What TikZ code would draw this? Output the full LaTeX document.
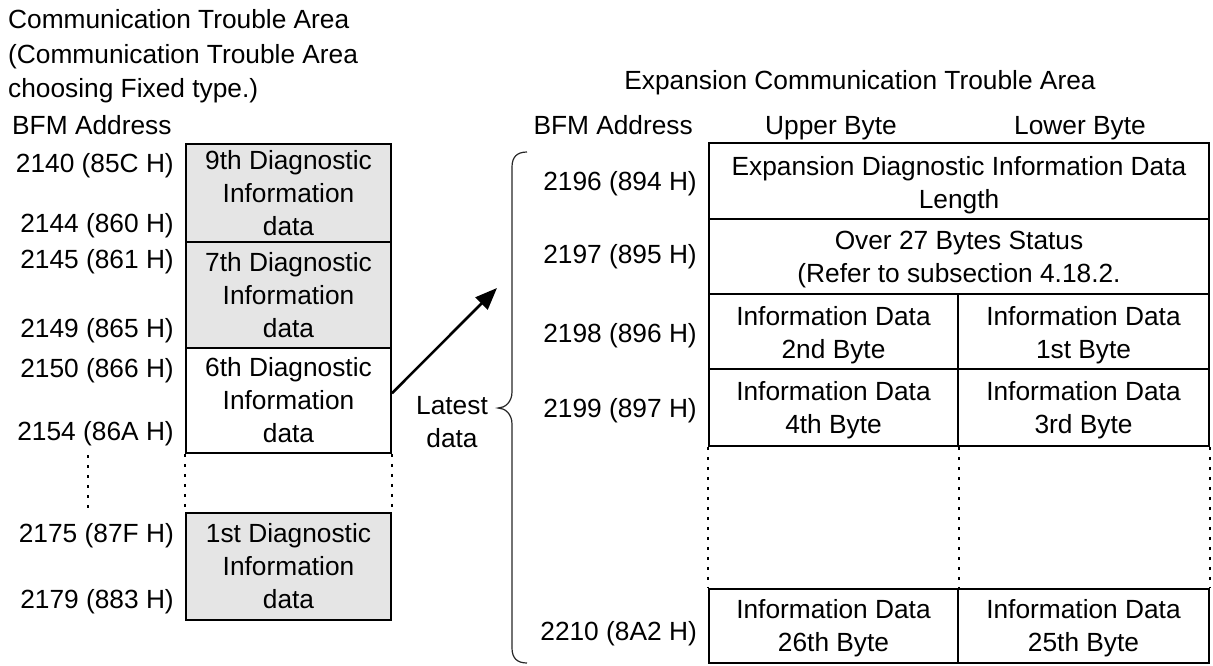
\documentclass[tikz,border=0pt]{standalone}
\usepackage{fontspec}
\setmainfont{Liberation Sans}
\usetikzlibrary{arrows.meta}
\begin{document}
\begin{tikzpicture}[x=1pt,y=-1pt,
  every node/.style={font=\fontsize{26.3pt}{33pt}\selectfont, inner sep=0pt},
  cell/.style={draw, line width=1.8pt, align=center},
  shaded/.style={cell, fill=gray!20},
  celltext/.style={align=center},
  addr/.style={anchor=base east},
  dotline/.style={line width=2pt, dash pattern=on 3pt off 7pt},
  bracestyle/.style={line width=1.2pt, black!85},
  arrowstyle/.style={line width=2.6pt, -{Triangle[length=22pt,width=17pt]}}
]
\useasboundingbox (0,0) rectangle (1213,665);
% ---- left titles
\node[anchor=base west] (t1) at (8,28) {Communication Trouble Area};
\node[anchor=base west] (t2) at (8,63) {(Communication Trouble Area};
\node[anchor=base west] (t3) at (8,97) {choosing Fixed type.)};
\node[anchor=base west] (lbfm) at (12,134) {BFM Address};
% ---- left boxes
\node[shaded, minimum width=205pt, minimum height=98pt] (b9) at (288.5,193) {9th Diagnostic\\Information\\data};
\node[shaded, minimum width=205pt, minimum height=106pt] (b7) at (288.5,295) {7th Diagnostic\\Information\\data};
\node[cell, minimum width=205pt, minimum height=105pt] (b6) at (288.5,400.5) {6th Diagnostic\\Information\\data};
\node[shaded, minimum width=205pt, minimum height=107pt] (b1) at (288.5,566.5) {1st Diagnostic\\Information\\data};
\draw[dotline] (b6.south west) -- (b1.north west);
\draw[dotline] (b6.south east) -- (b1.north east);
% ---- left addresses
\node[addr] (a2140) at (174,172) {2140 (85C H)};
\node[addr] (a2144) at (174,232) {2144 (860 H)};
\node[addr] (a2145) at (174,268) {2145 (861 H)};
\node[addr] (a2149) at (174,337) {2149 (865 H)};
\node[addr] (a2150) at (174,377) {2150 (866 H)};
\node[addr] (a2154) at (174,440) {2154 (86A H)};
\node[addr] (a2175) at (174,542) {2175 (87F H)};
\node[addr] (a2179) at (174,608) {2179 (883 H)};
\coordinate (ad1) at (88,455);
\coordinate (ad2) at (88,513);
\draw[dotline] (ad1) -- (ad2);
% ---- right titles
\node[anchor=base] (t4) at (860,89) {Expansion Communication Trouble Area};
\node[anchor=base east] (rbfm) at (693,134) {BFM Address};
\node[anchor=base] (upper) at (831,134) {Upper Byte};
\node[anchor=base] (lower) at (1080,134) {Lower Byte};
% ---- right table (cells)
\node[cell, minimum width=500pt, minimum height=76pt] (r1) at (959,181) {};
\node[cell, minimum width=500pt, minimum height=75pt] (r2) at (959,256.5) {};
\node[cell, minimum width=249pt, minimum height=75pt] (r3a) at (833.5,331.5) {};
\node[cell, minimum width=251pt, minimum height=75pt] (r3b) at (1083.5,331.5) {};
\node[cell, minimum width=249pt, minimum height=77pt] (r4a) at (833.5,407.5) {};
\node[cell, minimum width=251pt, minimum height=77pt] (r4b) at (1083.5,407.5) {};
\node[cell, minimum width=249pt, minimum height=74pt] (r5a) at (833.5,626) {};
\node[cell, minimum width=251pt, minimum height=74pt] (r5b) at (1083.5,626) {};
% ---- right table (texts)
\node[celltext] (r1t) at ([yshift=-4pt]r1.center) {Expansion Diagnostic Information Data\\Length};
\node[celltext] (r2t) at ([yshift=-3pt]r2.center) {Over 27 Bytes Status\\(Refer to subsection 4.18.2.};
\node[celltext] (r3at) at ([yshift=-4pt]r3a.center) {Information Data\\2nd Byte};
\node[celltext] (r3bt) at ([yshift=-4pt]r3b.center) {Information Data\\1st Byte};
\node[celltext] (r4at) at ([yshift=-3pt]r4a.center) {Information Data\\4th Byte};
\node[celltext] (r4bt) at ([yshift=-3pt]r4b.center) {Information Data\\3rd Byte};
\node[celltext] (r5at) at ([yshift=-2pt]r5a.center) {Information Data\\26th Byte};
\node[celltext] (r5bt) at ([yshift=-2pt]r5b.center) {Information Data\\25th Byte};
\draw[dotline] (r4a.south west) -- (r5a.north west);
\draw[dotline] (r4a.south east) -- (r5a.north east);
\draw[dotline] (r4b.south east) -- (r5b.north east);
% ---- right addresses
\node[addr] (a2196) at (697,190) {2196 (894 H)};
\node[addr] (a2197) at (697,263) {2197 (895 H)};
\node[addr] (a2198) at (697,342) {2198 (896 H)};
\node[addr] (a2199) at (697,417) {2199 (897 H)};
\node[addr] (a2210) at (697,640) {2210 (8A2 H)};
% ---- brace and label
\draw[bracestyle] (527,152) .. controls (517,152) and (512,157) .. (512,167) -- (512,392)
  .. controls (512,402) and (505,408) .. (498,408)
  .. controls (505,408) and (512,414) .. (512,424) -- (512,648)
  .. controls (512,658) and (517,663) .. (527,663);
\node[align=center] (latest) at (452,422) {Latest\\data};
% ---- arrow
\coordinate (tip) at (497,288);
\draw[arrowstyle] (b6.4) -- (tip);
\end{tikzpicture}
\end{document}
